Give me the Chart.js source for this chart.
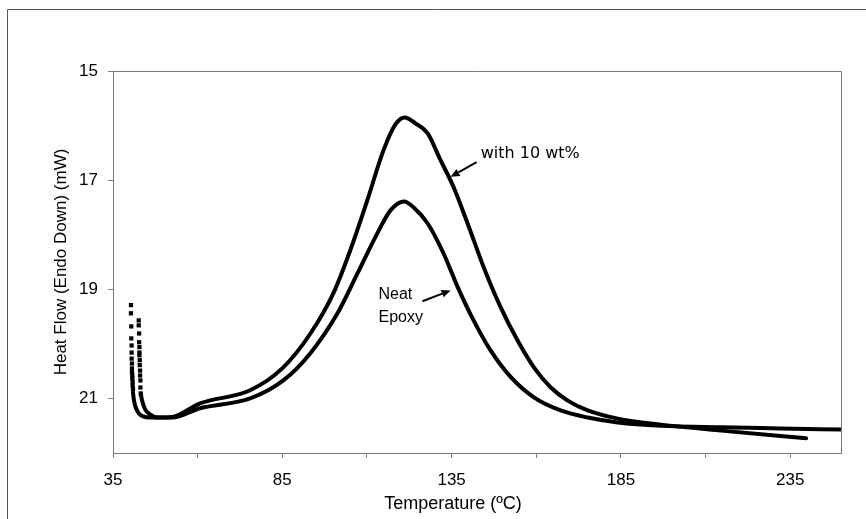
<!DOCTYPE html>
<html><head><meta charset="utf-8">
<script src="https://cdn.jsdelivr.net/npm/chart.js@4/dist/chart.umd.min.js"></script>
<style>html,body{margin:0;padding:0;background:#fff;} canvas{display:block;}</style>
</head><body>
<canvas id="c" width="866" height="519"></canvas>
<script>
// ---- data ----
const xTickValues = [35, 60, 85, 110, 135, 160, 185, 210, 235];
const xTickLabels = ['35', '', '85', '', '135', '', '185', '', '235'];
const yTickValues = [15, 17, 19, 21];

const neatDotsT  = [40.3, 40.3, 40.4, 40.4, 40.5, 40.5, 40.5, 40.6, 40.6, 40.6, 40.7, 40.7, 40.8, 40.8, 40.9];
const neatDotsHF = [19.29, 19.44, 19.68, 19.90, 20.03, 20.16, 20.27, 20.36, 20.45, 20.52, 20.58, 20.63, 20.70, 20.76, 20.83];

const neatT  = [40.9, 41.2, 41.8, 42.7, 43.9, 45.9, 52.5, 60.7, 75.5, 85.3, 93.3, 101.3, 107.2, 113.1, 117.0, 121.0, 123.8, 127.9, 132.6, 136.8, 141.5, 146.5, 152.5, 159.3, 167.2, 175.2, 184.1, 196.8, 214.6, 232.3, 249.8];
const neatHF = [20.89, 21.04, 21.18, 21.28, 21.33, 21.35, 21.35, 21.18, 21.00, 20.67, 20.17, 19.44, 18.71, 17.97, 17.55, 17.39, 17.50, 17.79, 18.34, 18.96, 19.57, 20.12, 20.61, 20.98, 21.22, 21.35, 21.44, 21.50, 21.53, 21.55, 21.57];

const wt10DotsT  = [42.6, 42.6, 42.7, 42.7, 42.8, 42.8, 42.8, 42.9, 42.9, 43.0, 43.0, 43.1, 43.1, 43.2];
const wt10DotsHF = [19.57, 19.66, 19.81, 19.97, 20.06, 20.16, 20.21, 20.30, 20.39, 20.49, 20.58, 20.67, 20.80, 20.91];

const wt10T  = [43.2, 43.6, 44.5, 45.9, 48.3, 52.5, 60.7, 75.5, 85.3, 93.3, 100.1, 105.1, 110.1, 114.9, 118.5, 121.2, 124.3, 127.9, 131.7, 135.6, 139.7, 144.5, 149.5, 154.5, 159.3, 164.3, 169.3, 175.2, 184.1, 196.8, 214.6, 239.7];
const wt10HF = [20.91, 21.04, 21.20, 21.29, 21.35, 21.34, 21.09, 20.85, 20.43, 19.81, 19.07, 18.28, 17.37, 16.45, 15.97, 15.85, 15.96, 16.14, 16.63, 17.13, 17.79, 18.60, 19.33, 19.94, 20.43, 20.80, 21.04, 21.22, 21.37, 21.48, 21.59, 21.73];

// ---- annotation placement (data coordinates) ----
const notes = [
  {text: 'with 10 wt%', x: 143.6, y: 16.52, font: '16px "DejaVu Sans"'},
  {text: 'Neat', x: 113.4, y: 19.09, font: '16px "Liberation Sans"'},
  {text: 'Epoxy', x: 113.4, y: 19.51, font: '16px "Liberation Sans"'}
];
const arrows = [
  {x1: 142.4, y1: 16.67, x2: 134.7, y2: 16.94},
  {x1: 126.4, y1: 19.22, x2: 134.7, y2: 19.02}
];

const zip = (a, b) => a.map((v, i) => ({x: v, y: b[i]}));
const axisGray = '#7a7a7a';
const tickFont = {family: '"Liberation Sans", Arial, sans-serif', size: 17};

const framePlugin = {
  id: 'frame',
  beforeDraw(chart) {
    const c = chart.ctx;
    c.save();
    c.fillStyle = '#fff';
    c.fillRect(0, 0, chart.width, chart.height);
    c.strokeStyle = '#555';
    c.lineWidth = 1;
    c.beginPath();
    c.moveTo(7.5, chart.height);
    c.lineTo(7.5, 9.5);
    c.lineTo(chart.width, 9.5);
    c.stroke();
    c.restore();
  },
  beforeDatasetsDraw(chart) {
    const a = chart.chartArea, c = chart.ctx;
    c.save();
    c.strokeStyle = axisGray;
    c.lineWidth = 1;
    c.beginPath();
    c.moveTo(a.left - 5, Math.round(a.top) + 0.5);
    c.lineTo(Math.round(a.right) + 0.5, Math.round(a.top) + 0.5);
    c.lineTo(Math.round(a.right) + 0.5, a.bottom);
    c.stroke();
    c.restore();
  },
  afterDraw(chart) {
    const c = chart.ctx, xs = chart.scales.x, ys = chart.scales.y;
    c.save();
    c.fillStyle = '#000';
    c.textBaseline = 'middle';
    c.textAlign = 'left';
    notes.forEach(n => {
      c.font = n.font;
      c.fillText(n.text, xs.getPixelForValue(n.x), ys.getPixelForValue(n.y));
    });
    c.strokeStyle = '#000';
    c.lineWidth = 2;
    arrows.forEach(a => {
      const x1 = xs.getPixelForValue(a.x1), y1 = ys.getPixelForValue(a.y1);
      const x2 = xs.getPixelForValue(a.x2), y2 = ys.getPixelForValue(a.y2);
      const ang = Math.atan2(y2 - y1, x2 - x1);
      const L = 9, W = 4;
      const bx = x2 - L * Math.cos(ang), by = y2 - L * Math.sin(ang);
      c.beginPath();
      c.moveTo(x1, y1);
      c.lineTo(bx, by);
      c.stroke();
      c.beginPath();
      c.moveTo(x2, y2);
      c.lineTo(bx + W * Math.sin(ang), by - W * Math.cos(ang));
      c.lineTo(bx - W * Math.sin(ang), by + W * Math.cos(ang));
      c.closePath();
      c.fill();
    });
    // x axis title
    c.font = '18px "Liberation Sans", Arial, sans-serif';
    c.textAlign = 'center';
    c.fillText('Temperature (ºC)', 453, 504);
    c.restore();
  }
};

const lineDs = (data) => ({
  data, showLine: true, borderColor: '#000', borderWidth: 4, pointRadius: 0,
  cubicInterpolationMode: 'monotone', borderJoinStyle: 'round', borderCapStyle: 'round'
});
const dotDs = (data) => ({
  data, showLine: false, pointStyle: 'rect', pointRadius: 3,
  backgroundColor: '#000', borderColor: '#000', pointBorderWidth: 0
});

new Chart(document.getElementById('c'), {
  type: 'scatter',
  data: {
    datasets: [
      lineDs(zip(neatT, neatHF)),
      lineDs(zip(wt10T, wt10HF)),
      dotDs(zip(neatDotsT, neatDotsHF)),
      dotDs(zip(wt10DotsT, wt10DotsHF))
    ]
  },
  options: {
    responsive: false,
    animation: false,
    devicePixelRatio: 1,
    layout: {padding: {left: 0, top: 71, right: 25, bottom: 0}},
    plugins: {legend: {display: false}, tooltip: {enabled: false}},
    scales: {
      x: {
        type: 'linear', min: 35, max: 250,
        afterBuildTicks: s => { s.ticks = xTickValues.map(v => ({value: v})); },
        afterFit: s => { s.height = 66; },
        ticks: {
          autoSkip: false, maxRotation: 0, color: '#000', font: tickFont, padding: 12,
          callback: v => xTickLabels[xTickValues.indexOf(v)]
        },
        grid: {drawOnChartArea: false, drawTicks: true, tickLength: 5, color: axisGray},
        border: {color: axisGray, width: 1},
        title: {display: false}
      },
      y: {
        type: 'linear', min: 15, max: 22, reverse: true,
        afterBuildTicks: s => { s.ticks = yTickValues.map(v => ({value: v})); },
        afterFit: s => { s.width = 113; },
        ticks: {color: '#000', font: tickFont, padding: 10, callback: v => String(v)},
        grid: {drawOnChartArea: false, drawTicks: true, tickLength: 5, color: axisGray},
        border: {color: axisGray, width: 1},
        title: {
          display: true, text: 'Heat Flow (Endo Down) (mW)', color: '#000',
          font: {family: '"Liberation Sans", Arial, sans-serif', size: 17},
          padding: {top: 51, bottom: 0}
        }
      }
    }
  },
  plugins: [framePlugin]
});
</script>
</body></html>
